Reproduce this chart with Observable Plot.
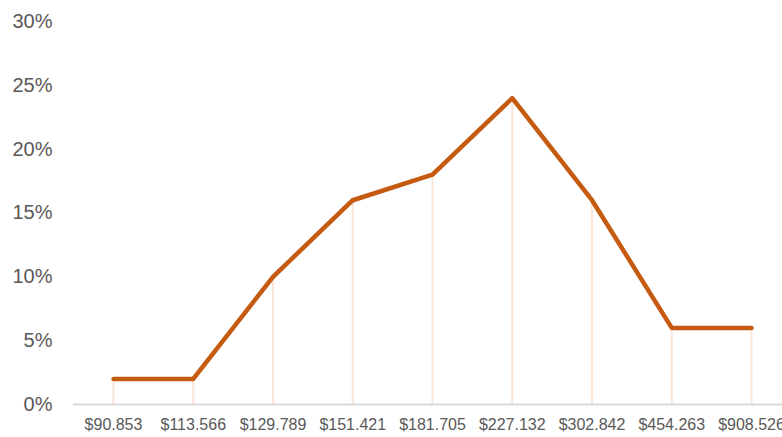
<!DOCTYPE html>
<html>
<head>
<meta charset="utf-8">
<script src="https://cdn.jsdelivr.net/npm/d3@7"></script>
<script src="https://cdn.jsdelivr.net/npm/@observablehq/plot@0.6"></script>
<style>
  html, body { margin: 0; padding: 0; background: #fff; overflow: hidden; }
</style>
</head>
<body>
<div id="chart"></div>
<script>
const categories = ["$90.853", "$113.566", "$129.789", "$151.421", "$181.705", "$227.132", "$302.842", "$454.263", "$908.526"];
const shares = [0.02, 0.02, 0.10, 0.16, 0.18, 0.24, 0.16, 0.06, 0.06];
const yTicks = [0, 0.05, 0.10, 0.15, 0.20, 0.25, 0.30];

const data = categories.map((c, i) => ({ c, v: shares[i] }));
const font = "'Liberation Sans', Arial, sans-serif";

const chart = Plot.plot({
  width: 782,
  height: 437,
  marginLeft: 73,
  marginRight: 0,
  marginTop: 21,
  marginBottom: 33,
  style: { fontFamily: font, background: "#fff" },
  x: { type: "point", domain: categories, range: [113, 751], padding: 0, round: false, label: null },
  y: { domain: [0, 0.3], label: null },
  marks: [
    Plot.ruleX(data, { x: "c", y1: 0, y2: "v", stroke: "#FBE5D6", strokeWidth: 2 }),
    Plot.ruleY([0], { stroke: "#D9D9D9", strokeWidth: 2 }),
    Plot.line(data, { x: "c", y: "v", stroke: "#C55A11", strokeWidth: 4.5, strokeLinecap: "round" }),
    Plot.axisY({ ticks: yTicks, tickSize: 0, tickPadding: 21, tickFormat: d => Math.round(d * 100) + "%", fontSize: 20, fill: "#595959", label: null }),
    Plot.axisX({ tickSize: 0, tickPadding: 14, fontSize: 16, fill: "#595959", label: null })
  ]
});
document.getElementById("chart").appendChild(chart);
</script>
</body>
</html>
